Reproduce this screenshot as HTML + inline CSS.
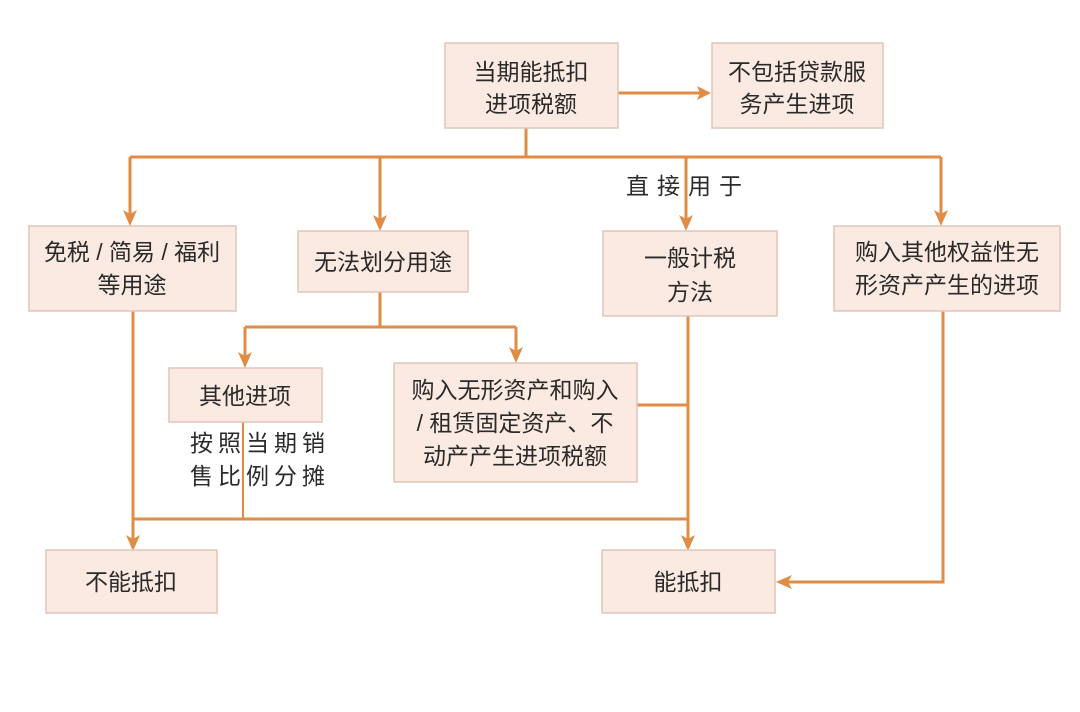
<!DOCTYPE html>
<html><head><meta charset="utf-8"><style>
html,body{margin:0;padding:0;background:#fff;}
svg{display:block;}
text{font-family:"Liberation Sans","Noto Sans CJK SC",sans-serif;font-size:23px;fill:#2a2a2a;text-anchor:middle;}
.b{fill:#fbeae2;stroke:#dfc6b8;stroke-width:1.5;}
.l{stroke:#e08c45;stroke-width:3;fill:none;}
.a{fill:#e08c45;}
</style></head><body>
<svg width="1080" height="712" viewBox="0 0 1080 712">
<rect width="1080" height="712" fill="#fff"/>
<path class="l" d="M618 93H700"/>
<polygon class="a" points="711,93 697,86 700,93 697,100"/>
<path class="l" d="M526 128V157M130 157H941M130 157V216M380 157V220M686 157V220M941 157V216"/>
<polygon class="a" points="130,226 123,210 130,214 137,210"/>
<polygon class="a" points="380,231 373,215 380,219 387,215"/>
<polygon class="a" points="686,231 679,215 686,219 693,215"/>
<polygon class="a" points="941,226 934,210 941,214 948,210"/>
<path class="l" d="M380 292V327M245 327H516M245 327V358M516 327V353"/>
<polygon class="a" points="245,368 238,352 245,356 252,352"/>
<polygon class="a" points="516,363 509,347 516,351 523,347"/>
<path class="l" d="M688 316V540M637 405H688M133 311V540M133 519H688"/>
<path d="M243 422V519" stroke="#e08c45" stroke-width="2"/>
<polygon class="a" points="688,551 681,535 688,539 695,535"/>
<polygon class="a" points="133,551 126,535 133,539 140,535"/>
<path class="l" d="M943 311V582H788"/>
<polygon class="a" points="776,582 792,575 788,582 792,589"/>
<rect class="b" x="445" y="43" width="173" height="85"/>
<text x="531" y="80">当期能抵扣</text><text x="531" y="112">进项税额</text>
<rect class="b" x="712" y="43" width="171" height="85"/>
<text x="797" y="80">不包括贷款服</text><text x="797" y="112">务产生进项</text>
<rect class="b" x="29" y="226" width="207" height="85"/>
<text x="132" y="260">免税 / 简易 / 福利</text><text x="132" y="293">等用途</text>
<rect class="b" x="298" y="231" width="170" height="61"/>
<text x="383" y="270">无法划分用途</text>
<rect class="b" x="603" y="231" width="174" height="85"/>
<text x="690" y="266">一般计税</text><text x="690" y="300">方法</text>
<rect class="b" x="834" y="226" width="226" height="85"/>
<text x="947" y="260">购入其他权益性无</text><text x="947" y="293">形资产产生的进项</text>
<rect class="b" x="169" y="368" width="153" height="54"/>
<text x="245" y="404">其他进项</text>
<rect class="b" x="394" y="363" width="243" height="119"/>
<text x="515" y="398">购入无形资产和购入</text><text x="515" y="431">/ 租赁固定资产、不</text><text x="515" y="464">动产产生进项税额</text>
<rect class="b" x="46" y="550" width="171" height="63"/>
<text x="131" y="590">不能抵扣</text>
<rect class="b" x="602" y="550" width="173" height="63"/>
<text x="688" y="590">能抵扣</text>
<text x="260" y="451" letter-spacing="5">按照当期销</text>
<text x="260" y="484" letter-spacing="5">售比例分摊</text>
<text x="688" y="194" letter-spacing="8">直接用于</text>
</svg>
</body></html>
